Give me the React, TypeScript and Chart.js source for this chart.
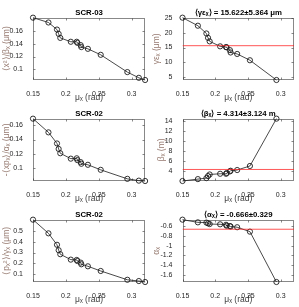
import React, { useEffect, useRef } from "react";
import { Chart, registerables } from "chart.js";

Chart.register(...registerables);
Chart.defaults.font.family = "'Liberation Sans', Arial, Helvetica, sans-serif";

// ---- data ----
const mu = [0.15, 0.1735, 0.1865, 0.189, 0.1915, 0.2075, 0.2165, 0.2175, 0.2225, 0.2235, 0.2335, 0.253, 0.2935, 0.311, 0.3205];
const muTicks = [0.15, 0.2, 0.25, 0.3];

const xSqOverBeta = [0.1805, 0.173, 0.162, 0.1553, 0.149, 0.143, 0.143, 0.1413, 0.1378, 0.1347, 0.132, 0.1227, 0.0958, 0.0869, 0.0835];
const xSqTicks = [0.1, 0.12, 0.14, 0.16];

const gammaEmit = [25.2, 22.45, 19.8, 18.3, 17.1, 15.4, 15.15, 15.05, 14.1, 13.3, 12.8, 10.65, 3.9];
const gammaEmitTicks = [5, 10, 15, 20, 25];

const xpOverAlpha = [0.169, 0.15, 0.1346, 0.127, 0.121, 0.1135, 0.114, 0.1115, 0.1087, 0.1064, 0.105, 0.098, 0.0855, 0.083, 0.0825];
const xpTicks = [0.1, 0.12, 0.14, 0.16];

const betaX = [2.0, 2.38, 2.58, 2.99, 3.31, 3.45, 3.45, 3.59, 3.92, 4.06, 4.2, 5.01, 14.5];
const betaTicks = [4, 6, 8, 10, 12, 14];

const pSqOverGamma = [0.61, 0.481, 0.373, 0.322, 0.284, 0.233, 0.23, 0.22, 0.205, 0.189, 0.17, 0.126, 0.043, 0.031, 0.022];
const pSqTicks = [0.1, 0.2, 0.3, 0.4, 0.5];

const alphaX = [-0.47, -0.525, -0.53, -0.545, -0.56, -0.565, -0.575, -0.595, -0.6, -0.61, -0.625, -0.715, -1.745];
const alphaTicks = [-1.6, -1.4, -1.2, -1, -0.8, -0.6];

const meanValues = [null, 15.622, null, 4.314, null, -0.666];
const panelTitles = [
  "SCR-03",
  "⟨γεₓ⟩ = 15.622±5.364 μm",
  "SCR-02",
  "⟨βₓ⟩ = 4.314±3.124 m",
  "SCR-02",
  "⟨αₓ⟩ = -0.666±0.329",
];
const yLabels = ["⟨x²⟩/βₓ (μm)", "γεₓ (μm)", "-⟨xpₓ⟩/αₓ (μm)", "βₓ (m)", "⟨pₓ²⟩/γₓ (μm)", "αₓ"];
const xLabel = "μₓ (rad)";

const seriesList = [xSqOverBeta, gammaEmit, xpOverAlpha, betaX, pSqOverGamma, alphaX];
const tickList = [xSqTicks, gammaEmitTicks, xpTicks, betaTicks, pSqTicks, alphaTicks];

// ---- layout ----
const rowTops = [0, 100.5, 201.5];
const yTitlePad = [2, 2, 2, 6.3, 2, 2];

const fmt = (v: number) => String(Math.round(v * 1000) / 1000);

const boxPlugin = {
  id: "matlabBox",
  beforeDatasetsDraw(chart: any) {
    const { ctx, chartArea: a, scales } = chart;
    const L = Math.round(a.left) + 0.5;
    const R = Math.round(a.right) - 0.5;
    const T = Math.round(a.top) + 0.5;
    const B = Math.round(a.bottom) - 0.5;
    ctx.save();
    ctx.strokeStyle = "rgba(38,38,38,0.55)";
    ctx.lineWidth = 1;
    ctx.strokeRect(L, T, R - L, B - T);
    ctx.beginPath();
    const tl = 2;
    scales.x.ticks.forEach((t: any) => {
      const px = Math.round(scales.x.getPixelForValue(t.value)) + 0.5;
      ctx.moveTo(px, B);
      ctx.lineTo(px, B - tl);
      ctx.moveTo(px, T);
      ctx.lineTo(px, T + tl);
    });
    scales.y.ticks.forEach((t: any) => {
      const py = Math.round(scales.y.getPixelForValue(t.value)) + 0.5;
      ctx.moveTo(L, py);
      ctx.lineTo(L + tl, py);
      ctx.moveTo(R, py);
      ctx.lineTo(R - tl, py);
    });
    ctx.stroke();
    ctx.restore();
  },
};

function Panel({ idx }: { idx: number }) {
  const ref = useRef<HTMLCanvasElement>(null);
  const row = Math.floor(idx / 2);
  const col = idx % 2;
  const W = col === 0 ? 150 : 149;
  const H = 103;

  useEffect(() => {
    const values = seriesList[idx];
    const ticks = tickList[idx];
    const mean = meanValues[idx];
    const pts = values.map((v, i) => ({ x: mu[i], y: v }));
    const xMin = Math.min(...mu);
    const xMax = Math.max(...mu);
    const yMin = Math.min(...values);
    const yMax = Math.max(...values);
    const datasets: any[] = [];
    if (mean !== null) {
      datasets.push({
        data: [
          { x: xMin, y: mean },
          { x: xMax, y: mean },
        ],
        borderColor: "rgba(255,30,30,0.75)",
        borderWidth: 1,
        pointRadius: 0,
      });
    }
    datasets.push({
      data: pts,
      borderColor: "#1c1c1c",
      borderWidth: 0.8,
      pointRadius: 2.6,
      pointBorderWidth: 0.9,
      pointBorderColor: "#1c1c1c",
      pointBackgroundColor: "rgba(0,0,0,0)",
      clip: false,
      tension: 0,
    });

    const chart = new Chart(ref.current as HTMLCanvasElement, {
      type: "line",
      data: { datasets },
      options: {
        animation: false,
        responsive: false,
        devicePixelRatio: 1,
        events: [],
        layout: { padding: { left: 0, right: col === 0 ? 2 : 4, top: 0, bottom: 0 } },
        plugins: {
          legend: { display: false },
          tooltip: { enabled: false },
          title: {
            display: true,
            text: panelTitles[idx],
            fullSize: false,
            color: "#000",
            font: { size: 7.8, weight: "bold" },
            padding: { top: 8.3, bottom: 0 },
          },
        },
        scales: {
          x: {
            type: "linear",
            min: xMin,
            max: xMax,
            grid: { display: false },
            border: { display: false },
            ticks: {
              font: { size: 7 },
              color: "#262626",
              padding: 2,
              autoSkip: false,
              maxRotation: 0,
              callback: (v: any) => fmt(Number(v)),
            },
            afterBuildTicks: (s: any) => {
              s.ticks = muTicks.map((v) => ({ value: v }));
            },
            afterFit: (s: any) => {
              s.height = 23;
            },
            title: {
              display: true,
              text: xLabel,
              color: "#404040",
              font: { size: 8.5 },
              padding: { top: 0, bottom: 0 },
            },
          },
          y: {
            type: "linear",
            min: yMin,
            max: yMax,
            grid: { display: false },
            border: { display: false },
            ticks: {
              font: { size: 7 },
              color: "#262626",
              padding: 2,
              autoSkip: false,
              callback: (v: any) => fmt(Number(v)),
            },
            afterBuildTicks: (s: any) => {
              s.ticks = ticks.map((v) => ({ value: v }));
            },
            afterFit: (s: any) => {
              s.width = col === 0 ? 33 : 32.5;
            },
            title: {
              display: true,
              text: yLabels[idx],
              color: "rgb(150,122,112)",
              font: { size: 8.5 },
              padding: { top: yTitlePad[idx], bottom: 0 },
            },
          },
        },
      } as any,
      plugins: [boxPlugin as any],
    });
    return () => chart.destroy();
  }, [idx]);

  return (
    <canvas
      ref={ref}
      width={W}
      height={H}
      style={{
        position: "absolute",
        left: col === 0 ? 0 : 150,
        top: rowTops[row],
        width: W,
        height: H,
      }}
    />
  );
}

export default function App() {
  return (
    <div
      style={{
        position: "fixed",
        left: 0,
        top: 0,
        width: 299,
        height: 307,
        background: "#fff",
        overflow: "hidden",
      }}
    >
      {[0, 1, 2, 3, 4, 5].map((i) => (
        <Panel key={i} idx={i} />
      ))}
    </div>
  );
}
